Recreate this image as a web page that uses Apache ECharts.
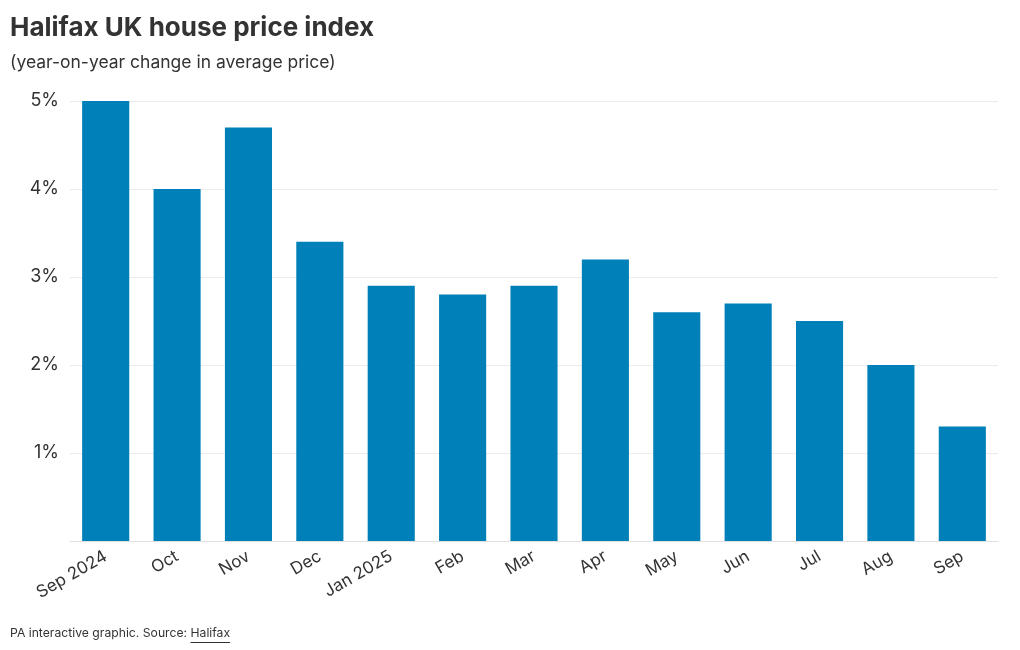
<!DOCTYPE html>
<html><head><meta charset="utf-8">
<script src="https://cdn.jsdelivr.net/npm/echarts@6/dist/echarts.min.js"></script>
<style>html,body{margin:0;padding:0;background:#fff}#c{width:1020px;height:650px}</style>
</head><body><div id="c"></div>
<script>
const categories = ['Sep 2024','Oct','Nov','Dec','Jan 2025','Feb','Mar','Apr','May','Jun','Jul','Aug','Sep'];
const values = [5.0, 4.0, 4.7, 3.4, 2.9, 2.8, 2.9, 3.2, 2.6, 2.7, 2.5, 2.0, 1.3];
const yTicks = [0, 1, 2, 3, 4, 5];
const FONT = 'Inter, "Liberation Sans", sans-serif';
const footFont = '12.2px ' + FONT;
const footPrefix = 'PA interactive graphic. Source: ';
const footLink = 'Halifax';
const ctx = document.createElement('canvas').getContext('2d');
ctx.font = footFont;
const prefixW = ctx.measureText(footPrefix).width;
const linkW = ctx.measureText(footLink).width;
const chart = echarts.init(document.getElementById('c'), null, {renderer:'canvas'});
chart.setOption({
  animation: false,
  textStyle: {fontFamily: FONT},
  title: [
    {text: 'Halifax UK house price index', left: 10, top: 15, padding: 0,
     textStyle: {fontFamily: FONT, fontSize: 26, fontWeight: 'bold', color: '#333'}},
    {text: '(year-on-year change in average price)', left: 10, top: 54, padding: 0,
     textStyle: {fontFamily: FONT, fontSize: 17.5, fontWeight: 'normal', color: '#333'}}
  ],
  grid: {left: 70, right: 22, top: 101, bottom: 109, containLabel: false},
  xAxis: {
    type: 'category', data: categories,
    axisLine: {show: true, lineStyle: {color: '#e0e0e0'}},
    axisTick: {show: false},
    axisLabel: {rotate: 30, interval: 0, fontSize: 17, color: '#333', margin: 14, fontFamily: FONT}
  },
  yAxis: {
    type: 'value', min: yTicks[0], max: yTicks[yTicks.length-1], interval: 1,
    axisLine: {show: false}, axisTick: {show: false},
    splitLine: {lineStyle: {color: '#ececec'}},
    axisLabel: {fontSize: 18, color: '#333', margin: 11, fontFamily: FONT,
      formatter: v => v === 0 ? '' : v + '%'}
  },
  series: [{
    type: 'bar', data: values, barCategoryGap: '34%',
    itemStyle: {color: '#0080b9'}
  }],
  graphic: [
    {type: 'text', x: 10, y: 627, style: {text: footPrefix, font: footFont, fill: '#333'}},
    {type: 'text', x: 10 + prefixW, y: 627, style: {text: footLink, font: footFont, fill: '#333'}},
    {type: 'line', shape: {x1: 10 + prefixW, y1: 642.5, x2: 10 + prefixW + linkW, y2: 642.5}, style: {stroke: '#333', lineWidth: 1}}
  ]
});
</script></body></html>
